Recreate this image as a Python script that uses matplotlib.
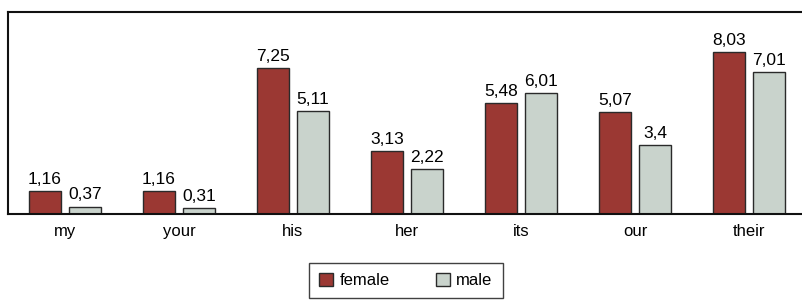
import numpy as np
import matplotlib
matplotlib.use("Agg")
from matplotlib import pyplot as plt
from matplotlib.patches import Patch

categories = ["my", "your", "his", "her", "its", "our", "their"]
female = [1.16, 1.16, 7.25, 3.13, 5.48, 5.07, 8.03]
male = [0.37, 0.31, 5.11, 2.22, 6.01, 3.4, 7.01]
female_labels = ["1,16", "1,16", "7,25", "3,13", "5,48", "5,07", "8,03"]
male_labels = ["0,37", "0,31", "5,11", "2,22", "6,01", "3,4", "7,01"]

plt.rcParams["font.family"] = ["Liberation Sans", "DejaVu Sans"]

female_color = "#9b3833"
male_color = "#c9d3cc"
edge = "#2a2a2a"

fig = plt.figure(figsize=(8.02, 3.01), dpi=100)
ax = fig.add_axes([8 / 802, 1 - 214 / 301, 798 / 802, 202 / 301])

x = np.arange(len(categories))
w = 0.28
off = 0.175
b1 = ax.bar(x - off, female, w, color=female_color, edgecolor=edge, linewidth=1)
b2 = ax.bar(x + off, male, w, color=male_color, edgecolor=edge, linewidth=1)

# value labels above bars
for bar, lab in zip(b1, female_labels):
    ax.text(bar.get_x() + bar.get_width() / 2, bar.get_height() + 0.2, lab,
            ha="center", va="bottom", fontsize=12.5)
for bar, lab in zip(b2, male_labels):
    ax.text(bar.get_x() + bar.get_width() / 2, bar.get_height() + 0.2, lab,
            ha="center", va="bottom", fontsize=12.5)

ax.set_xlim(-0.5, 6.5)
ax.set_ylim(0, 10)
ax.set_xticks(x)
ax.set_xticklabels(categories, fontsize=12)
ax.tick_params(axis="x", length=0, pad=7)
ax.set_yticks([])
for s in ax.spines.values():
    s.set_linewidth(1.5)
    s.set_color("#111111")

handles = [Patch(facecolor=female_color, edgecolor=edge, label="female"),
           Patch(facecolor=male_color, edgecolor=edge, label="male")]
fig.legend(handles=handles, loc="upper center", ncol=2,
           bbox_to_anchor=(406 / 802, 1 - 263 / 301), frameon=True,
           fancybox=False, edgecolor="#111111", fontsize=12,
           handlelength=0.8, handleheight=0.8, columnspacing=2.8,
           borderpad=0.6, handletextpad=0.4, borderaxespad=0)

fig.savefig("out.png", dpi=100)
